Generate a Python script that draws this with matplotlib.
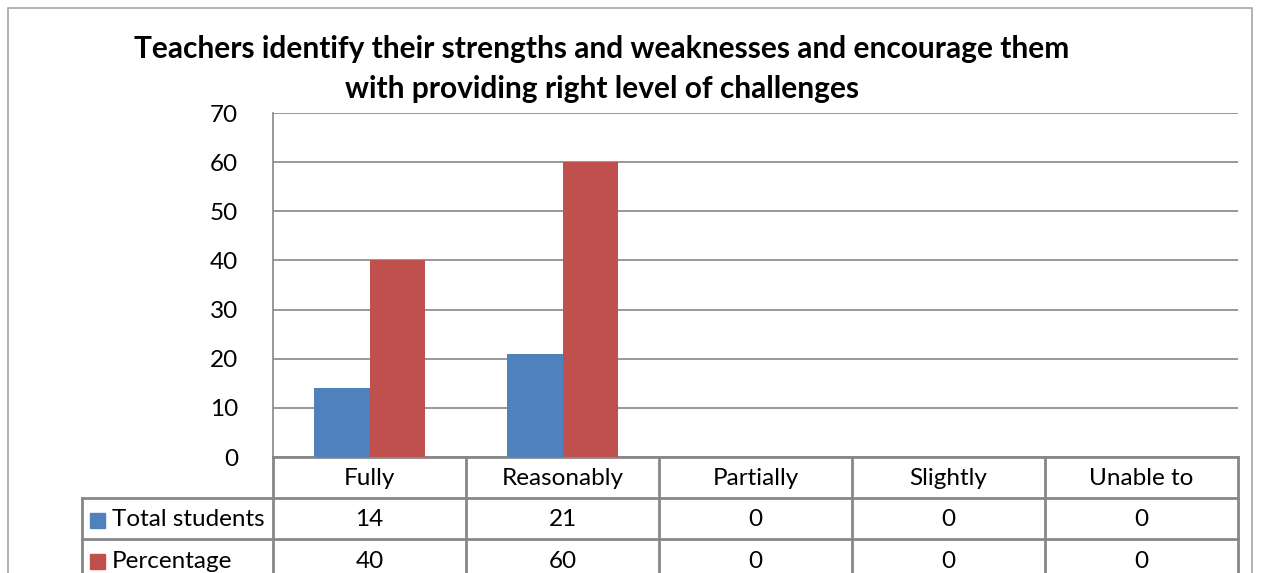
import matplotlib.pyplot as plt
import numpy as np
from matplotlib.patches import Rectangle

plt.rcParams['font.family'] = ['Lato', 'DejaVu Sans']

# chart data
categories = ['Fully', 'Reasonably', 'Partially', 'Slightly', 'Unable to']
series_names = ['Total students', 'Percentage']
total_students = [14, 21, 0, 0, 0]
percentage = [40, 60, 0, 0, 0]
colors = ['#4F81BD', '#C0504D']
title = ('Teachers identify their strengths and weaknesses and encourage them\n'
         'with providing right level of challenges')

W, H = 1264, 573
fig = plt.figure(figsize=(W / 100, H / 100), dpi=100)

# outer chart frame (runs past the bottom edge like the cropped original)
fig.patches.append(Rectangle((8 / W, -0.05), (1252 - 8) / W, 1.05 - 8 / H,
                             transform=fig.transFigure, fill=False,
                             edgecolor='#A6A6A6', linewidth=1.2))

ax = fig.add_axes([273 / W, (H - 457) / H, (1238 - 273) / W, 344 / H])

x = np.arange(len(categories))
bw = 0.285
ax.bar(x - bw / 2, total_students, bw, color=colors[0], zorder=3)
ax.bar(x + bw / 2, percentage, bw, color=colors[1], zorder=3)

fs = 17.5
ax.set_xlim(-0.5, len(categories) - 0.5)
ax.set_ylim(0, 70)
ax.set_yticks(range(0, 71, 10))
ax.tick_params(axis='y', length=0, pad=25, labelsize=fs)
ax.set_xticks([])
ax.grid(axis='y', color='#868686', linewidth=1.2, zorder=0)
for s in ['top', 'right', 'bottom']:
    ax.spines[s].set_visible(False)
ax.spines['left'].set_color('#868686')
ax.spines['left'].set_linewidth(1.2)

# data table under the axis
line_kw = dict(color='#878787', linewidth=2, clip_on=False,
               transform=ax.get_xaxis_transform())
row_h = 41 / 344
left_x = -0.5 - (273 - 82) / 193
n = len(categories)
rows = [total_students, percentage]
bottom = -row_h * 3.3
# horizontal lines
ax.plot([-0.5, n - 0.5], [0, 0], **line_kw)
for r in range(1, 3):
    ax.plot([left_x, n - 0.5], [-row_h * r, -row_h * r], **line_kw)
# vertical lines
for i in range(n + 1):
    ax.plot([i - 0.5, i - 0.5], [0, bottom], **line_kw)
ax.plot([left_x, left_x], [-row_h, bottom], **line_kw)

tt = ax.get_xaxis_transform()
for i, c in enumerate(categories):
    ax.text(i, -row_h * 0.5 - 1 / 344, c, ha='center', va='center', fontsize=fs,
            transform=tt, clip_on=False)
for r, (name, vals) in enumerate(zip(series_names, rows)):
    yc = -row_h * (r + 1.5) - 1.5 / 344
    for i, v in enumerate(vals):
        ax.text(i, yc, str(v), ha='center', va='center', fontsize=fs,
                transform=tt, clip_on=False)
    ax.add_patch(Rectangle((left_x + 8 / 193, yc - 7.5 / 344), 15 / 193, 15 / 344,
                           color=colors[r], transform=tt, clip_on=False))
    ax.text(left_x + 30 / 193, yc, name, ha='left', va='center', fontsize=fs,
            transform=tt, clip_on=False)

fig.text(602 / W, 1 - 69 / H, title, ha='center', va='center',
         fontsize=21.5, fontweight='bold', linespacing=1.5)

fig.savefig('out.png', dpi=100)
